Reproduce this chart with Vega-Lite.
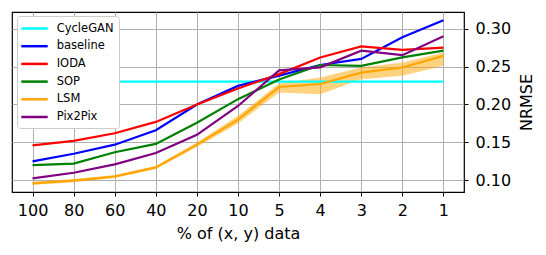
{
  "$schema": "https://vega.github.io/schema/vega-lite/v6.json",
  "width": 452,
  "height": 180,
  "padding": {"left": 12, "top": 12, "right": 0, "bottom": 0},
  "background": "white",
  "config": {
    "font": "DejaVu Sans",
    "view": {"stroke": "black", "strokeWidth": 1.2},
    "axis": {
      "labelFont": "DejaVu Sans",
      "titleFont": "DejaVu Sans",
      "labelFontSize": 16,
      "titleFontSize": 16,
      "titleFontWeight": "normal",
      "labelColor": "black",
      "titleColor": "black",
      "tickColor": "black",
      "tickSize": 4,
      "domain": false,
      "gridColor": "#b0b0b0",
      "gridWidth": 1
    }
  },
  "datasets": {
    "lines": [
      {"x": "100", "series": "CycleGAN", "v": 0.23},
      {"x": "80", "series": "CycleGAN", "v": 0.23},
      {"x": "60", "series": "CycleGAN", "v": 0.23},
      {"x": "40", "series": "CycleGAN", "v": 0.23},
      {"x": "20", "series": "CycleGAN", "v": 0.23},
      {"x": "10", "series": "CycleGAN", "v": 0.23},
      {"x": "5", "series": "CycleGAN", "v": 0.23},
      {"x": "4", "series": "CycleGAN", "v": 0.23},
      {"x": "3", "series": "CycleGAN", "v": 0.23},
      {"x": "2", "series": "CycleGAN", "v": 0.23},
      {"x": "1", "series": "CycleGAN", "v": 0.23},
      {"x": "100", "series": "baseline", "v": 0.125},
      {"x": "80", "series": "baseline", "v": 0.135},
      {"x": "60", "series": "baseline", "v": 0.147},
      {"x": "40", "series": "baseline", "v": 0.166},
      {"x": "20", "series": "baseline", "v": 0.2},
      {"x": "10", "series": "baseline", "v": 0.2245},
      {"x": "5", "series": "baseline", "v": 0.238},
      {"x": "4", "series": "baseline", "v": 0.252},
      {"x": "3", "series": "baseline", "v": 0.26},
      {"x": "2", "series": "baseline", "v": 0.2885},
      {"x": "1", "series": "baseline", "v": 0.311},
      {"x": "100", "series": "IODA", "v": 0.146},
      {"x": "80", "series": "IODA", "v": 0.152},
      {"x": "60", "series": "IODA", "v": 0.162},
      {"x": "40", "series": "IODA", "v": 0.177},
      {"x": "20", "series": "IODA", "v": 0.2},
      {"x": "10", "series": "IODA", "v": 0.221},
      {"x": "5", "series": "IODA", "v": 0.24},
      {"x": "4", "series": "IODA", "v": 0.262},
      {"x": "3", "series": "IODA", "v": 0.2765},
      {"x": "2", "series": "IODA", "v": 0.272},
      {"x": "1", "series": "IODA", "v": 0.275},
      {"x": "100", "series": "SOP", "v": 0.12},
      {"x": "80", "series": "SOP", "v": 0.122},
      {"x": "60", "series": "SOP", "v": 0.137},
      {"x": "40", "series": "SOP", "v": 0.148},
      {"x": "20", "series": "SOP", "v": 0.176},
      {"x": "10", "series": "SOP", "v": 0.207},
      {"x": "5", "series": "SOP", "v": 0.233},
      {"x": "4", "series": "SOP", "v": 0.252},
      {"x": "3", "series": "SOP", "v": 0.251},
      {"x": "2", "series": "SOP", "v": 0.262},
      {"x": "1", "series": "SOP", "v": 0.271},
      {"x": "100", "series": "LSM", "v": 0.096},
      {"x": "80", "series": "LSM", "v": 0.0996},
      {"x": "60", "series": "LSM", "v": 0.105},
      {"x": "40", "series": "LSM", "v": 0.117},
      {"x": "20", "series": "LSM", "v": 0.147},
      {"x": "10", "series": "LSM", "v": 0.18},
      {"x": "5", "series": "LSM", "v": 0.223},
      {"x": "4", "series": "LSM", "v": 0.227},
      {"x": "3", "series": "LSM", "v": 0.242},
      {"x": "2", "series": "LSM", "v": 0.2487},
      {"x": "1", "series": "LSM", "v": 0.264},
      {"x": "100", "series": "Pix2Pix", "v": 0.1026},
      {"x": "80", "series": "Pix2Pix", "v": 0.11},
      {"x": "60", "series": "Pix2Pix", "v": 0.121},
      {"x": "40", "series": "Pix2Pix", "v": 0.136},
      {"x": "20", "series": "Pix2Pix", "v": 0.16},
      {"x": "10", "series": "Pix2Pix", "v": 0.198},
      {"x": "5", "series": "Pix2Pix", "v": 0.245},
      {"x": "4", "series": "Pix2Pix", "v": 0.249},
      {"x": "3", "series": "Pix2Pix", "v": 0.271},
      {"x": "2", "series": "Pix2Pix", "v": 0.265},
      {"x": "1", "series": "Pix2Pix", "v": 0.29}
    ],
    "band": [
      {"x": "100", "lo": 0.094, "hi": 0.098},
      {"x": "80", "lo": 0.0976, "hi": 0.1016},
      {"x": "60", "lo": 0.103, "hi": 0.107},
      {"x": "40", "lo": 0.115, "hi": 0.119},
      {"x": "20", "lo": 0.144, "hi": 0.15},
      {"x": "10", "lo": 0.175, "hi": 0.185},
      {"x": "5", "lo": 0.2157, "hi": 0.2276},
      {"x": "4", "lo": 0.2135, "hi": 0.2355},
      {"x": "3", "lo": 0.2333, "hi": 0.2487},
      {"x": "2", "lo": 0.2377, "hi": 0.2554},
      {"x": "1", "lo": 0.251, "hi": 0.2686}
    ]
  },
  "encoding": {
    "x": {
      "field": "x", "type": "ordinal",
      "sort": ["100","80","60","40","20","10","5","4","3","2","1"],
      "scale": {"type": "point", "padding": 0.5},
      "axis": {"title": "% of (x, y) data", "labelAngle": 0, "labelAlign": "center", "labelPadding": 6.5, "titlePadding": 7, "grid": true}
    }
  },
  "layer": [
    {
      "data": {"name": "band"},
      "mark": {"type": "area", "color": "#ffa500", "opacity": 0.5},
      "encoding": {
        "y": {
          "field": "lo", "type": "quantitative",
          "scale": {"domain": [0.0846, 0.3219], "nice": false, "zero": false},
          "axis": {"orient": "right", "title": "NRMSE", "values": [0.1, 0.15, 0.2, 0.25, 0.3], "format": ".2f", "titleAngle": 270, "titleBaseline": "top", "labelPadding": 7, "titlePadding": 7.5, "grid": true}
        },
        "y2": {"field": "hi"}
      }
    },
    {
      "data": {"name": "lines"},
      "mark": {"type": "line", "strokeWidth": 2.2},
      "encoding": {
        "y": {
          "field": "v", "type": "quantitative",
          "scale": {"domain": [0.0846, 0.3219], "nice": false, "zero": false},
          "axis": {"orient": "right", "title": "NRMSE", "values": [0.1, 0.15, 0.2, 0.25, 0.3], "format": ".2f", "titleAngle": 270, "titleBaseline": "top", "labelPadding": 7, "titlePadding": 7.5, "grid": true}
        },
        "color": {
          "field": "series", "type": "nominal",
          "scale": {"domain": ["CycleGAN","baseline","IODA","SOP","LSM","Pix2Pix"], "range": ["#00ffff","#0000ff","#ff0000","#008000","#ffa500","#800080"]},
          "legend": {
            "title": null,
            "orient": "none",
            "legendX": 5,
            "legendY": 4,
            "symbolType": "M-2.2,0H2.2",
            "symbolSize": 144,
            "symbolStrokeWidth": 2.5,
            "symbolOffset": 5,
            "labelFontSize": 11.5,
            "labelFont": "DejaVu Sans",
            "labelColor": "black",
            "rowPadding": 4.7,
            "padding": 5,
            "fillColor": "white",
            "strokeColor": "#cccccc",
            "cornerRadius": 3,
            "labelOffset": 14.7
          }
        }
      }
    }
  ]
}
